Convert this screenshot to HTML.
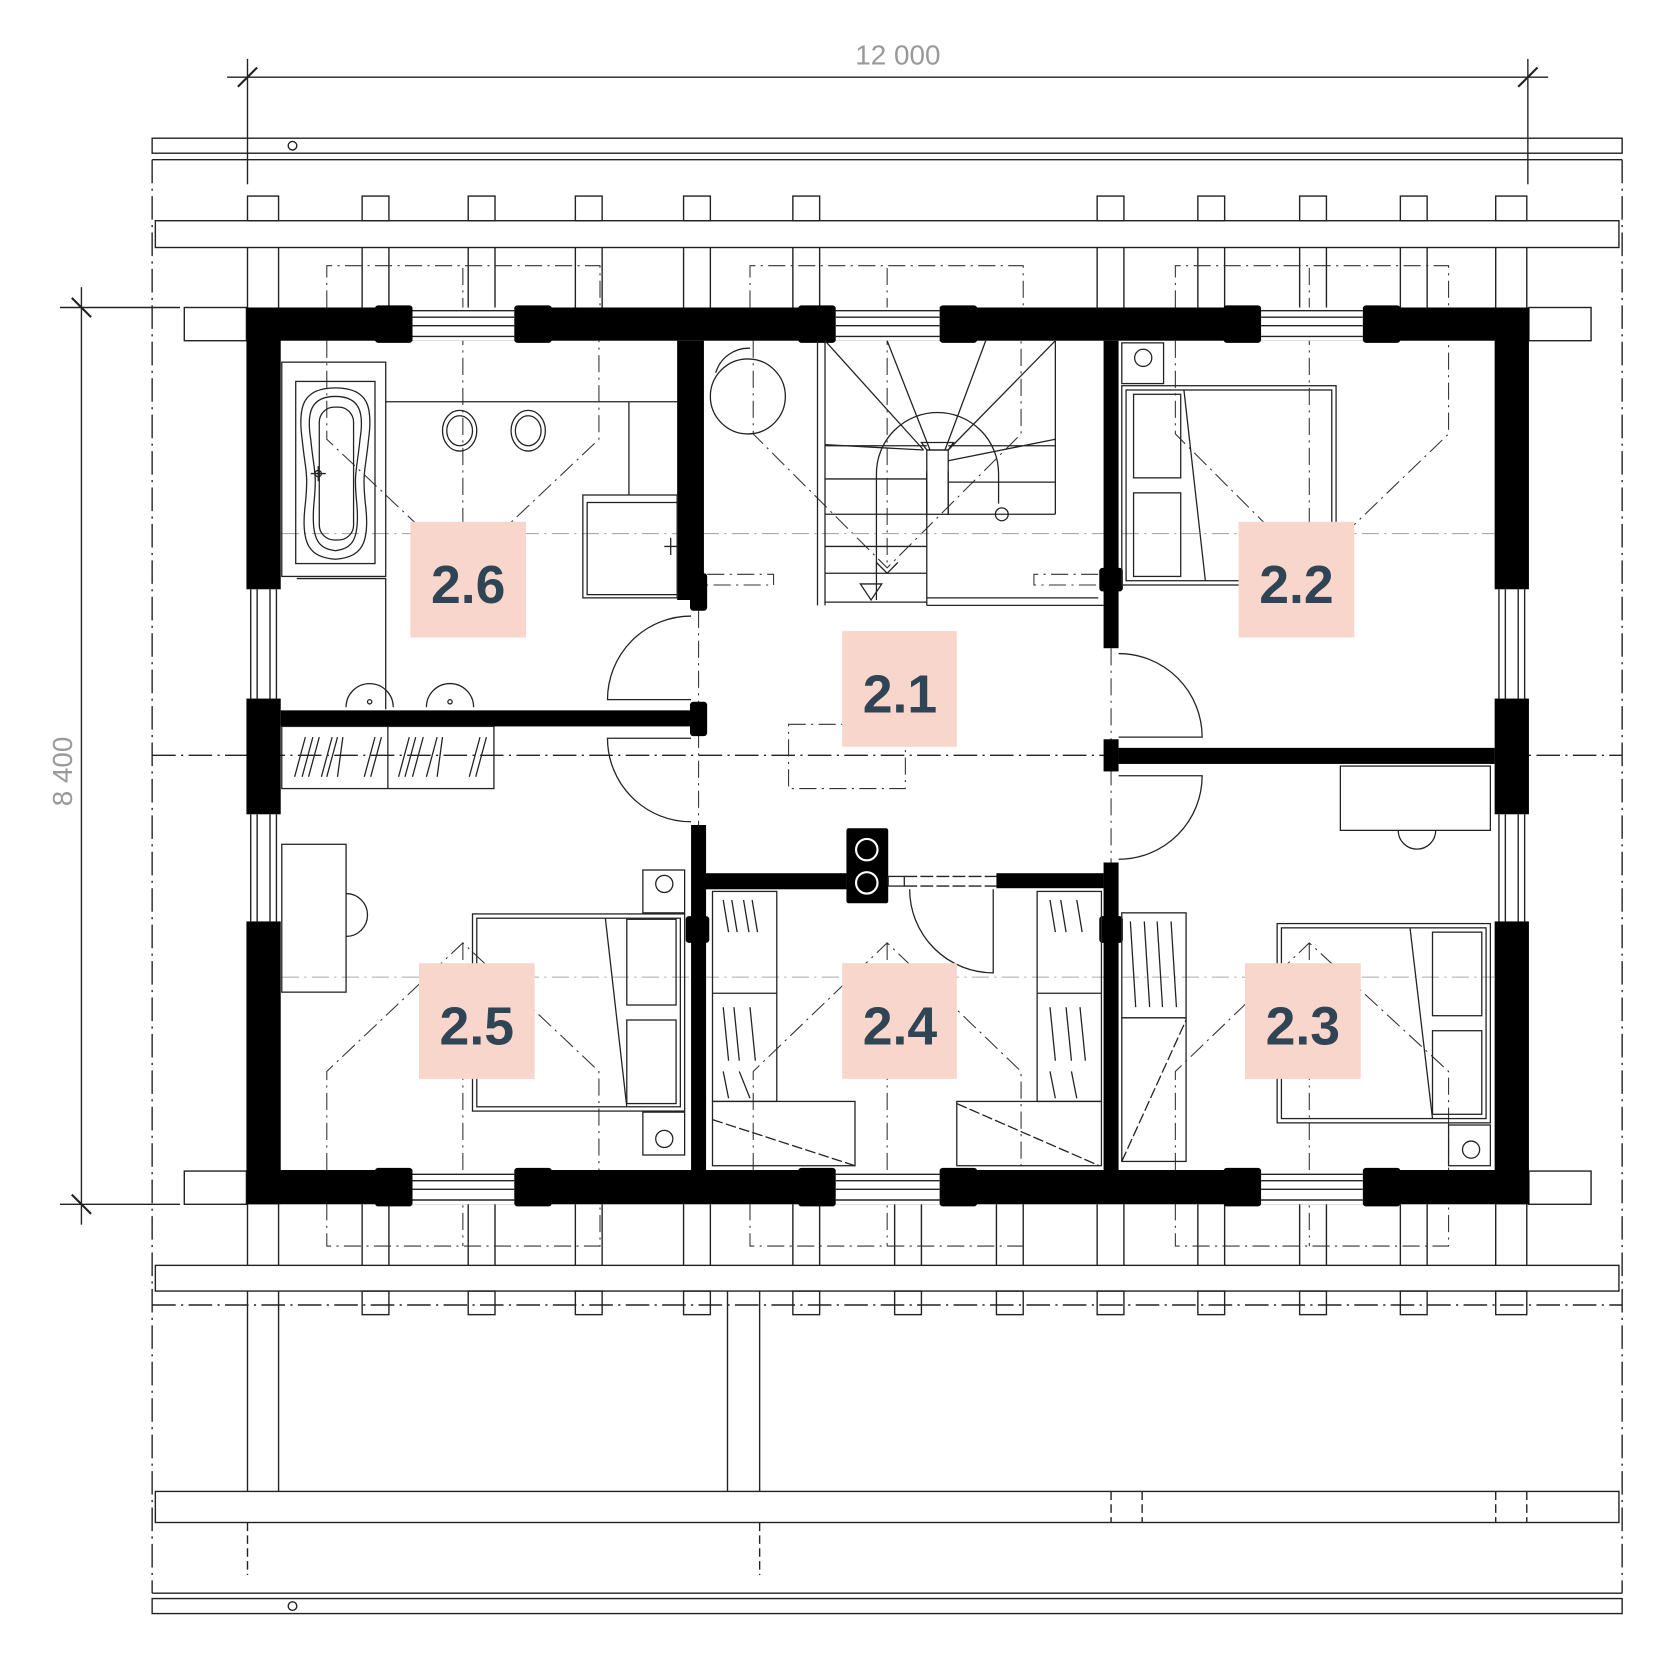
<!DOCTYPE html>
<html><head><meta charset="utf-8"><style>html,body{margin:0;padding:0;background:#fff}svg{display:block}</style></head><body>
<svg width="1680" height="1680" viewBox="0 0 1568 1568" xmlns="http://www.w3.org/2000/svg" font-family="Liberation Sans, sans-serif">
<g fill="none" stroke="#222" stroke-width="1.3">
<!-- outer frame -->
<rect x="142" y="129" width="1372" height="14"/>
<circle cx="273" cy="136" r="4"/>
<rect x="142" y="1492" width="1372" height="14"/>
<circle cx="273" cy="1499" r="4"/>
<line x1="142" y1="149" x2="1514" y2="149"/>
<line x1="142" y1="1487" x2="1514" y2="1487"/>
<g stroke-dasharray="22,5,2,5">
<line x1="142" y1="149" x2="142" y2="1487"/><line x1="1514" y1="149" x2="1514" y2="1487"/>
<line x1="142" y1="1218" x2="1514" y2="1218"/>
<line x1="142" y1="705" x2="1514" y2="705"/>
</g>
<rect x="145" y="206" width="1366" height="25"/>
<rect x="145" y="1181" width="1366" height="24"/>
<rect x="145" y="1392" width="1366" height="29"/>
<!-- rafters top -->
<g>
<rect x="231" y="183" width="29" height="23"/><rect x="338" y="183" width="25" height="23"/><rect x="437" y="183" width="25" height="23"/><rect x="537" y="183" width="25" height="23"/><rect x="638" y="183" width="25" height="23"/><rect x="740" y="183" width="25" height="23"/><rect x="1024" y="183" width="25" height="23"/><rect x="1118" y="183" width="25" height="23"/><rect x="1213" y="183" width="25" height="23"/><rect x="1307" y="183" width="25" height="23"/><rect x="1396" y="183" width="29" height="23"/>
</g>
<path d="M231 231V287M260 231V287M338 231V287M363 231V287M437 231V287M462 231V287M537 231V287M562 231V287M638 231V287M663 231V287M740 231V287M765 231V287M1024 231V287M1049 231V287M1118 231V287M1143 231V287M1213 231V287M1238 231V287M1307 231V287M1332 231V287M1396 231V287M1425 231V287"/>
<path d="M231 1124V1181M260 1124V1181M338 1124V1181M363 1124V1181M437 1124V1181M462 1124V1181M537 1124V1181M562 1124V1181M638 1124V1181M663 1124V1181M740 1124V1181M765 1124V1181M835 1124V1181M860 1124V1181M930 1124V1181M955 1124V1181M1024 1124V1181M1049 1124V1181M1118 1124V1181M1143 1124V1181M1213 1124V1181M1238 1124V1181M1307 1124V1181M1332 1124V1181M1396 1124V1181M1425 1124V1181"/>
<g>
<rect x="338" y="1205" width="25" height="22"/><rect x="437" y="1205" width="25" height="22"/><rect x="537" y="1205" width="25" height="22"/><rect x="638" y="1205" width="25" height="22"/><rect x="740" y="1205" width="25" height="22"/><rect x="835" y="1205" width="25" height="22"/><rect x="930" y="1205" width="25" height="22"/><rect x="1024" y="1205" width="25" height="22"/><rect x="1118" y="1205" width="25" height="22"/><rect x="1213" y="1205" width="25" height="22"/><rect x="1307" y="1205" width="25" height="22"/><rect x="1396" y="1205" width="29" height="22"/>
</g>
<path d="M231 1205V1392M260 1205V1392M679 1205V1392M709 1205V1392"/>
<path d="M231 1421V1470M709 1421V1470M1037 1392V1421M1066 1392V1421M1396 1392V1421M1425 1392V1421" stroke-dasharray="8,4"/>
<!-- beam ends -->
<rect x="172" y="287" width="58" height="31"/><rect x="1427" y="287" width="58" height="31"/>
<rect x="172" y="1093" width="58" height="31"/><rect x="1427" y="1093" width="58" height="31"/>
<!-- windows -->
<path d="M385 290H480M385 296H480M385 304H480M385 314H480M780 290H877M780 296H877M780 304H877M780 314H877M1177 290H1272M1177 296H1272M1177 304H1272M1177 314H1272"/>
<path d="M385 1096H480M385 1102H480M385 1110H480M385 1120H480M780 1096H877M780 1102H877M780 1110H877M780 1120H877M1177 1096H1272M1177 1102H1272M1177 1110H1272M1177 1120H1272"/>
<path d="M234 550V652M240 550V652M252 550V652M258 550V652M234 760V860M240 760V860M252 760V860M258 760V860"/>
<path d="M1399 550V652M1405 550V652M1417 550V652M1423 550V652M1399 760V860M1405 760V860M1417 760V860M1423 760V860"/>
<!-- dimension lines -->
<line x1="212" y1="72" x2="1445" y2="72"/>
<line x1="231" y1="55" x2="231" y2="172"/><line x1="1426" y1="55" x2="1426" y2="172"/>
<line x1="222" y1="81" x2="240" y2="63" stroke-width="2"/><line x1="1417" y1="81" x2="1435" y2="63" stroke-width="2"/>
<line x1="76" y1="268" x2="76" y2="1143"/>
<line x1="56" y1="287" x2="168" y2="287"/><line x1="56" y1="1124" x2="168" y2="1124"/>
<line x1="67" y1="278" x2="85" y2="296" stroke-width="2"/><line x1="67" y1="1115" x2="85" y2="1133" stroke-width="2"/>
</g>
<text x="838" y="60" font-size="26" fill="#999" text-anchor="middle">12 000</text>
<text transform="translate(67,720) rotate(-90)" font-size="26" fill="#999" text-anchor="middle">8 400</text>

<!-- roof projection dash-dot -->
<g fill="none" stroke="#333" stroke-width="1" stroke-dasharray="16,5,2,5">
<path d="M305 315V248H560V315M700 315V248H955V315M1097 315V248H1352V315"/>
<path d="M305 1095V1163H560V1095M700 1095V1163H955V1095M1097 1095V1163H1352V1095"/>
<path d="M305 318V410L432 530L559 410V318M432 250V530"/>
<path d="M703 318V405L828 530L953 405V318M828 250V530"/>
<path d="M1097 318V405L1222 530L1352 405V318M1222 250V530"/>
<path d="M305 1092V1000L432 880L559 1000V1092M432 880V1163"/>
<path d="M703 1092V1000L828 880L953 1000V1092M828 880V1163"/>
<path d="M1097 1092V1000L1222 880L1352 1000V1092M1222 880V1163"/>
<path d="M263 498H1395M263 912H1395" stroke="#aaa"/>
<rect x="736" y="676" width="109" height="60"/>
<path d="M660 536H722V546H660M1025 536H965V546H1025"/>
<path d="M652 570V770M1037 605V805"/>
</g>

<!-- walls -->
<g fill="#000">
<rect x="230" y="287" width="1197" height="31"/>
<rect x="230" y="1092" width="1197" height="32"/>
<rect x="230" y="287" width="32" height="263"/>
<rect x="230" y="652" width="32" height="108"/>
<rect x="230" y="860" width="32" height="264"/>
<rect x="1395" y="287" width="32" height="263"/>
<rect x="1395" y="652" width="32" height="108"/>
<rect x="1395" y="860" width="32" height="264"/>
<rect x="350" y="285" width="35" height="35" rx="3"/><rect x="480" y="285" width="35" height="35" rx="3"/>
<rect x="745" y="285" width="35" height="35" rx="3"/><rect x="877" y="285" width="35" height="35" rx="3"/>
<rect x="1142" y="285" width="35" height="35" rx="3"/><rect x="1272" y="285" width="35" height="35" rx="3"/>
<rect x="350" y="1090" width="35" height="36" rx="3"/><rect x="480" y="1090" width="35" height="36" rx="3"/>
<rect x="745" y="1090" width="35" height="36" rx="3"/><rect x="877" y="1090" width="35" height="36" rx="3"/>
<rect x="1142" y="1090" width="35" height="36" rx="3"/><rect x="1272" y="1090" width="35" height="36" rx="3"/>
</g>
<rect x="385" y="287" width="95" height="31" fill="#fff"/><rect x="780" y="287" width="97" height="31" fill="#fff"/><rect x="1177" y="287" width="95" height="31" fill="#fff"/>
<rect x="385" y="1092" width="95" height="32" fill="#fff"/><rect x="780" y="1092" width="97" height="32" fill="#fff"/><rect x="1177" y="1092" width="95" height="32" fill="#fff"/>
<g fill="none" stroke="#222" stroke-width="1.3">
<path d="M385 290H480M385 296H480M385 304H480M385 314H480M780 290H877M780 296H877M780 304H877M780 314H877M1177 290H1272M1177 296H1272M1177 304H1272M1177 314H1272"/>
<path d="M385 1096H480M385 1102H480M385 1110H480M385 1120H480M780 1096H877M780 1102H877M780 1110H877M780 1120H877M1177 1096H1272M1177 1102H1272M1177 1110H1272M1177 1120H1272"/>
</g>
<g fill="#000">
<rect x="632" y="318" width="25" height="242"/>
<rect x="644" y="535" width="16" height="35" rx="3"/>
<rect x="262" y="663" width="395" height="15"/>
<rect x="644" y="655" width="16" height="32" rx="3"/>
<rect x="645" y="770" width="14" height="322"/>
<rect x="640" y="855" width="22" height="25" rx="3"/>
<rect x="657" y="815" width="133" height="15"/>
<rect x="790" y="773" width="39" height="70" rx="2"/>
<rect x="930" y="815" width="100" height="14"/>
<rect x="1030" y="318" width="14" height="287"/>
<rect x="1026" y="530" width="22" height="22" rx="3"/>
<rect x="1030" y="690" width="14" height="30"/>
<rect x="1044" y="698" width="351" height="15"/>
<rect x="1030" y="805" width="14" height="287"/>
<rect x="1026" y="855" width="22" height="25" rx="3"/>
</g>
<g fill="none" stroke="#fff" stroke-width="2"><circle cx="809" cy="793" r="10"/><circle cx="809" cy="824" r="10"/></g>
<g fill="none" stroke="#222" stroke-width="1.2">
<rect x="829" y="818" width="15" height="9"/>
<path d="M844 818H930M844 827H930" stroke-dasharray="12,3"/>
<!-- doors -->
<path d="M645 575A78 78 0 0 0 567 653H645"/>
<path d="M645 767A78 78 0 0 1 567 689H645"/>
<path d="M1044 610A78 78 0 0 1 1122 688H1044"/>
<path d="M1044 802A78 78 0 0 0 1122 724H1044"/>
<path d="M849 830A78 78 0 0 0 927 908V830"/>
<!-- bathroom -->
<rect x="263" y="338" width="97" height="200"/>
<rect x="276" y="356" width="74" height="170"/>
<path d="M313 362C282 362 278 380 282 410C285 440 288 440 285 470C280 510 290 520 313 522C336 520 346 510 341 470C338 440 341 440 344 410C348 380 344 362 313 362Z"/>
<path d="M313 370C290 370 286 385 290 410C293 440 296 440 293 470C290 505 298 512 313 514C328 512 336 505 333 470C330 440 333 440 336 410C340 385 336 370 313 370Z"/>
<rect x="298" y="380" width="32" height="124" rx="14"/>
<circle cx="297" cy="442" r="3"/><path d="M290 442H304M297 435V449"/>
<path d="M360 375H632M587 375V462M277 540H360V662"/>
<ellipse cx="429" cy="402" rx="16" ry="19"/><ellipse cx="429" cy="402" rx="12" ry="14"/>
<ellipse cx="493" cy="402" rx="16" ry="19"/><ellipse cx="493" cy="402" rx="12" ry="14"/>
<rect x="544" y="462" width="88" height="96"/><rect x="548" y="469" width="84" height="86"/>
<path d="M620 510H632M626 502V518"/>
<path d="M323 660A22 22 0 0 1 367 660M398 660A22 22 0 0 1 442 660"/>
<circle cx="345" cy="655" r="2"/><circle cx="420" cy="655" r="2"/>
<!-- wardrobe under bath -->
<rect x="263" y="678" width="198" height="58"/><path d="M362 678V736"/>
<path d="M275 725L285 688M282 725L292 688M288 725L298 688M300 725L310 688M305 725L315 688M315 725L320 688M340 725L350 688M346 725L356 688M372 725L382 688M378 725L388 688M385 725L395 688M398 725L408 688M408 725L413 688M438 725L448 688M444 725L454 688"/>
<!-- room 2.5 -->
<rect x="263" y="788" width="60" height="138"/>
<path d="M323 834A17 17 0 0 1 323 874"/>
<rect x="441" y="853" width="198" height="184"/><rect x="445" y="857" width="190" height="176"/>
<path d="M565 857L585 1033"/>
<rect x="585" y="858" width="46" height="80"/><rect x="585" y="952" width="46" height="78"/>
<rect x="600" y="812" width="39" height="40"/><circle cx="620" cy="825" r="8"/>
<rect x="600" y="1038" width="39" height="40"/><circle cx="620" cy="1063" r="8"/>
<!-- room 2.4 -->
<rect x="665" y="832" width="60" height="196"/><path d="M665 927H725"/>
<path d="M675 840L680 870M683 840L688 870M694 840L699 870M702 840L707 870M675 940L680 990M685 940L690 990M700 940L705 990M675 1000L680 1025M690 1000L700 1025"/>
<rect x="665" y="1028" width="133" height="60"/><path d="M665 1045L798 1088" stroke-dasharray="10,3"/>
<rect x="968" y="832" width="60" height="196"/><path d="M968 927H1028"/>
<path d="M980 840L985 870M990 840L995 870M1005 840L1010 870M980 940L985 990M995 940L1000 990M1008 940L1013 990M980 1000L985 1025M1000 1000L1005 1025"/>
<rect x="893" y="1028" width="135" height="60"/><path d="M893 1030L1026 1088" stroke-dasharray="10,3"/>
<!-- room 2.3 -->
<rect x="1047" y="852" width="60" height="98"/>
<path d="M1055 860L1060 940M1068 860L1073 940M1080 860L1085 940M1093 860L1098 940"/>
<rect x="1047" y="950" width="60" height="134"/><path d="M1047 1084L1107 952" stroke-dasharray="10,3"/>
<rect x="1251" y="715" width="140" height="60"/>
<path d="M1305 775A17 17 0 0 0 1340 775"/>
<rect x="1192" y="862" width="199" height="186"/><rect x="1196" y="866" width="191" height="178"/>
<path d="M1316 866L1337 1044"/>
<rect x="1337" y="870" width="46" height="78"/><rect x="1337" y="962" width="46" height="78"/>
<rect x="1352" y="1050" width="39" height="38"/><circle cx="1373" cy="1073" r="8"/>
<!-- room 2.2 -->
<rect x="1047" y="320" width="39" height="38"/><circle cx="1067" cy="334" r="8"/>
<rect x="1047" y="360" width="200" height="186"/><rect x="1051" y="364" width="192" height="178"/>
<path d="M1105 364L1125 542"/>
<rect x="1058" y="368" width="44" height="78"/><rect x="1058" y="460" width="44" height="78"/>
<!-- hall -->
<circle cx="698" cy="370" r="35"/>
<path d="M668 348A32 32 0 0 1 700 325"/>
<!-- stairs -->
<path d="M763 318V565M770 318V565M770 562H865M865 440V565M865 565H1030M865 558H1025"/>
<path d="M770 416H865M770 447H865M770 480H865M770 510H865M770 535H865"/>
<path d="M885 416H985M885 450H985M885 480H985M985 318V480M885 440V480M770 318L862 420M770 415L862 420M828 318L868 420M920 318L882 420M985 318L885 420M985 410L885 430"/>
<rect x="865" y="420" width="20" height="60"/>
<path d="M860 413H890L885 420H865Z"/>
<path d="M818 560V442A57 57 0 0 1 932 442V470"/>
<circle cx="935" cy="480" r="6"/>
<path d="M803 545H823L813 560Z"/>
<path d="M818 525L828 535L838 525"/>
</g>

<!-- labels -->
<g fill="#f9d6cb">
<rect x="383" y="487" width="108" height="108"/><rect x="786" y="589" width="107" height="108"/>
<rect x="1156" y="487" width="108" height="108"/><rect x="391" y="899" width="108" height="108"/>
<rect x="786" y="899" width="107" height="108"/><rect x="1162" y="899" width="108" height="108"/>
</g>
<g fill="#2f4455" font-size="50" font-weight="bold" text-anchor="middle">
<text x="437" y="563">2.6</text><text x="840" y="665">2.1</text><text x="1210" y="563">2.2</text>
<text x="445" y="975">2.5</text><text x="840" y="975">2.4</text><text x="1216" y="975">2.3</text>
</g>
</svg>
</body></html>
